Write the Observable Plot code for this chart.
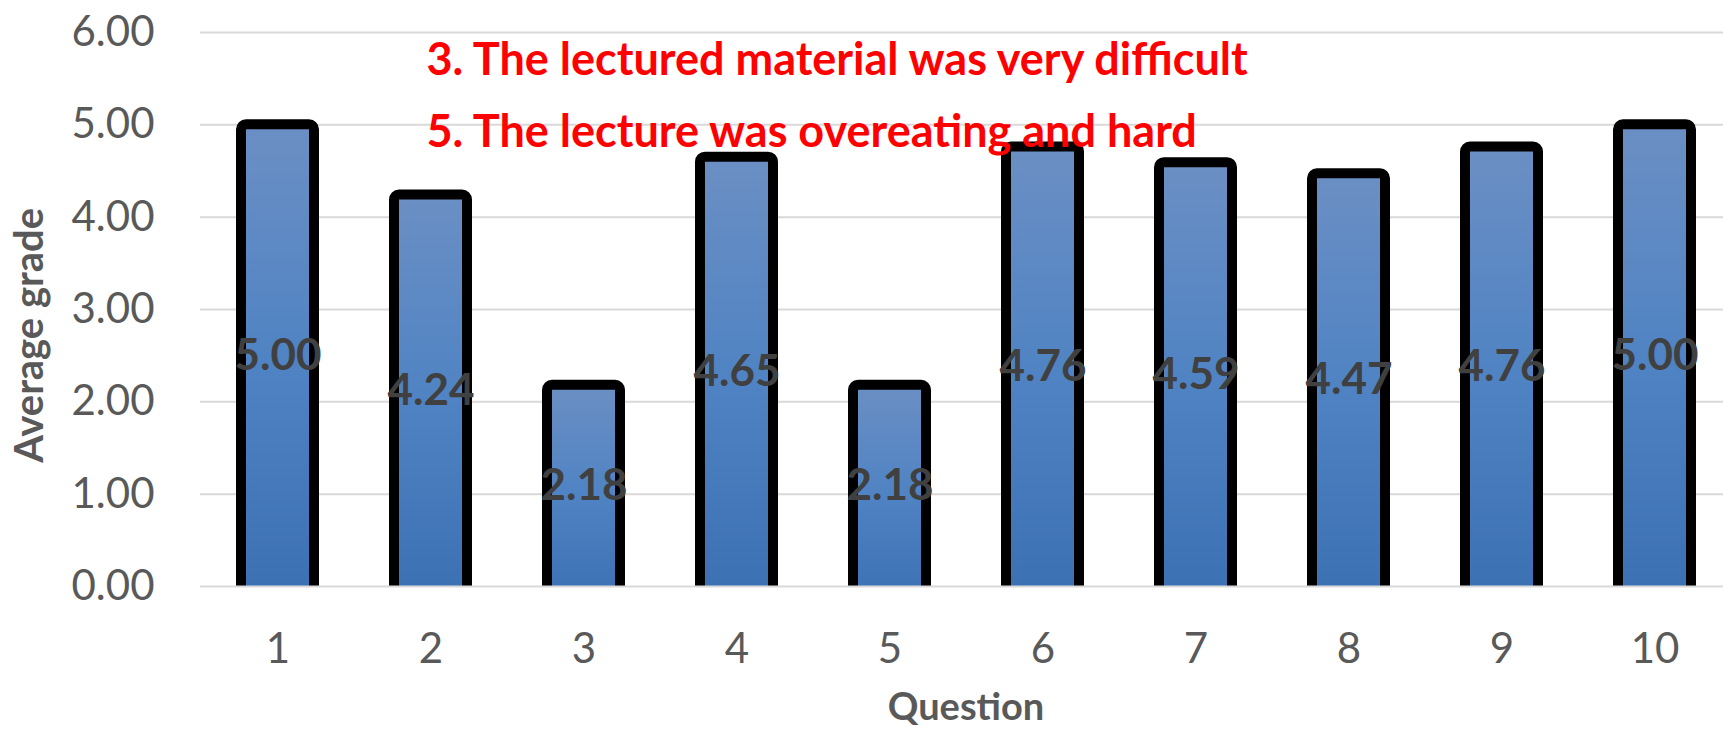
<!DOCTYPE html>
<html>
<head>
<meta charset="utf-8">
<script src="https://cdn.jsdelivr.net/npm/d3@7"></script>
<script src="https://cdn.jsdelivr.net/npm/@observablehq/plot@0.6"></script>
<style>
  html, body { margin: 0; padding: 0; background: #fff; overflow: hidden; }
  #chart svg { display: block; }
</style>
</head>
<body>
<div id="chart"></div>
<script>
const questions = ["1", "2", "3", "4", "5", "6", "7", "8", "9", "10"];
const grades = [5.00, 4.24, 2.18, 4.65, 2.18, 4.76, 4.59, 4.47, 4.76, 5.00];
const yTicks = [0, 1, 2, 3, 4, 5, 6];
const notes = ["3. The lectured material was very difficult", "5. The lecture was overeating and hard"];
const noteY = [5.70, 4.92];

const data = questions.map((q, i) => ({q, value: grades[i]}));
const noteData = notes.map((t, i) => ({t, y: noteY[i]}));

const gradient = () => {
  const defs = d3.create("svg:defs");
  const g = defs.append("linearGradient").attr("id", "barGrad")
    .attr("x1", 0).attr("y1", 0).attr("x2", 0).attr("y2", 1);
  g.append("stop").attr("offset", "0%").attr("stop-color", "#6B8FC4");
  g.append("stop").attr("offset", "50%").attr("stop-color", "#4F83C3");
  g.append("stop").attr("offset", "100%").attr("stop-color", "#3A6FB2");
  return defs.node();
};

const chart = Plot.plot({
  width: 1723,
  height: 730,
  marginLeft: 200,
  marginRight: 0,
  marginTop: 32,
  marginBottom: 144,
  style: {fontFamily: "Lato, sans-serif", background: "#fff"},
  x: {type: "band", domain: questions, range: [199.5, 1732.5], paddingInner: 0.526, paddingOuter: 0.262},
  y: {domain: [0, 6]},
  marks: [
    gradient,
    Plot.ruleY(yTicks.filter(d => d > 0), {stroke: "#D9D9D9", strokeWidth: 2}),
    Plot.axisY({ticks: yTicks, tickFormat: d => d.toFixed(2), tickSize: 0, tickPadding: 46, fontSize: 42, color: "#595959", label: null}),
    Plot.axisX({tickSize: 0, tickPadding: 47, fontSize: 42, color: "#595959", label: null}),
    Plot.barY(data, {x: "q", y: "value", fill: "url(#barGrad)", stroke: "black", strokeWidth: 10, rx: 5, insetBottom: -20, clip: "frame"}),
    Plot.ruleY([0], {stroke: "#D9D9D9", strokeWidth: 2}),
    Plot.text(data, {x: "q", y: d => d.value / 2, text: d => d.value.toFixed(2), fontSize: 44, fontWeight: "bold", fill: "#404040"}),
    Plot.text(["Average grade"], {frameAnchor: "left", y: [2.72], dx: -170, rotate: -90, textAnchor: "middle", lineAnchor: "middle", fontSize: 40, fontWeight: "bold", fill: "#595959"}),
    Plot.text(["Question"], {frameAnchor: "bottom", dy: 121, dx: 4, lineAnchor: "middle", textAnchor: "middle", fontSize: 38, fontWeight: "bold", fill: "#595959"}),
    Plot.text(noteData, {frameAnchor: "left", y: "y", text: "t", dx: 226, textAnchor: "start", lineAnchor: "middle", fontSize: 45, fontWeight: "bold", fill: "#FF0000"})
  ]
});
document.getElementById("chart").appendChild(chart);
</script>
</body>
</html>
